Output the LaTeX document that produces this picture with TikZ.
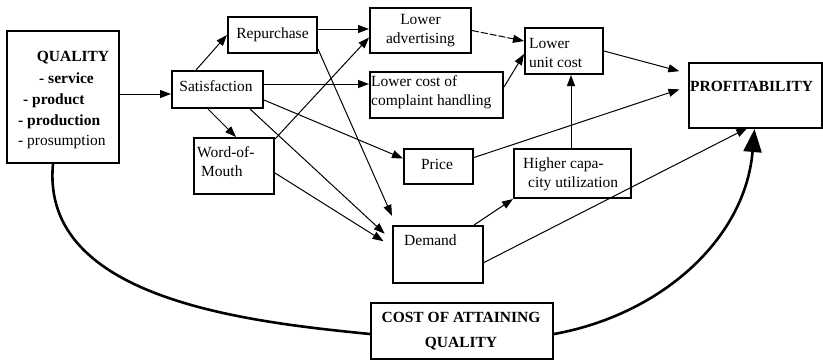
\documentclass[tikz,border=0pt]{standalone}
\usepackage{fontspec}
\setmainfont{Liberation Serif}
\usetikzlibrary{arrows.meta}
\begin{document}
\begin{tikzpicture}[x=1pt,y=-1pt,
  box/.style={draw, line width=2pt, inner sep=0pt, anchor=north west,
    font=\fontsize{15.5}{19}\selectfont, align=center},
  txt/.style={inner sep=0pt, font=\fontsize{15.5}{19}\selectfont, align=left},
  link/.style={line width=1pt, -{Triangle[length=11pt,width=8pt]}},
  gap/.style={shorten >=10pt},
  costcurve/.style={line width=2.6pt},
]
\useasboundingbox (0,0) rectangle (823,360);

% boxes
\node[box, minimum width=112pt, minimum height=132pt] (qual) at (6,30) {};
\node[box, minimum width=89pt, minimum height=36pt] (rep) at (227,16) {Repurchase};
\node[box, minimum width=91pt, minimum height=37pt] (sat) at (171,70) {};
\node[box, minimum width=80pt, minimum height=56pt] (wom) at (193,137) {};
\node[box, minimum width=101pt, minimum height=45pt] (adv) at (369,7) {Lower\\advertising};
\node[box, minimum width=133pt, minimum height=46pt] (lc) at (369,71) {};
\node[box, minimum width=78pt, minimum height=46pt] (luc) at (524,27) {};
\node[box, minimum width=133pt, minimum height=65pt] (prof) at (688,62) {};
\node[box, minimum width=69pt, minimum height=35pt] (price) at (403,148) {};
\node[box, minimum width=117pt, minimum height=49pt] (hcu) at (513,148) {};
\node[box, minimum width=90pt, minimum height=57pt] (dem) at (392,225) {};
\node[box, minimum width=182pt, minimum height=56pt] (cost) at (370,302) {};

% texts placed inside the boxes (base = baseline of the last line)
\node[txt, anchor=base] (qhead) at (73,61) {\textbf{QUALITY}};
\node[txt, anchor=base west] (q1) at (39,83) {\textbf{- service}};
\node[txt, anchor=base west] (q2) at (23,104) {\textbf{- product}};
\node[txt, anchor=base west] (q3) at (18,125) {\textbf{- production}};
\node[txt, anchor=base west] (q4) at (18,145) {- prosumption};
\node[txt, anchor=base] (sattxt) at (216,91) {Satisfaction};
\node[txt, anchor=base west] (womtxt) at (197,176) {Word-of-\\\hspace{4pt}Mouth};
\node[txt, anchor=west] (lctxt) at ([xshift=2pt,yshift=3pt]lc.west) {Lower cost of\\complaint handling};
\node[txt, anchor=west] (luctxt) at ([xshift=5pt,yshift=-2pt]luc.west) {Lower\\unit cost};
\node[txt, anchor=west] (proftxt) at (690,86) {\textbf{PROFITABILITY}};
\node[txt, anchor=center] (pricetxt) at (437,164) {Price};
\node[txt, anchor=base west] (hcutxt) at (523,187) {Higher capa-\\\hspace{5pt}city utilization};
\node[txt, anchor=west] (demtxt) at (404,240) {Demand};
\node[txt, anchor=center, align=center, font=\fontsize{15.5}{25}\selectfont] (costtxt) at (461,331) {\textbf{COST OF ATTAINING}\\\textbf{QUALITY}};

% links
\draw[link] ([yshift=-4.5pt]sat.west -| qual.east) -- ([yshift=-4.5pt]sat.west);
\draw[link] ([xshift=25pt]sat.north west) -- (rep.west);
\draw[link] ([yshift=5.5pt]sat.east) -- ([yshift=5.5pt]sat.east -| lc.west);
\draw[link] ([yshift=9pt]sat.south east) -- ([yshift=8pt]price.west);
\draw[link] ([xshift=37pt]sat.south west) -- ([xshift=2pt]wom.north);
\draw[link, gap] ([xshift=-14pt]sat.south east) -- ([yshift=14pt]dem.west);
\draw[link] ([yshift=-2pt]wom.north east) -- ([yshift=-7pt]adv.west);
\draw[link, gap] ([yshift=-7pt]wom.east) -- ([yshift=8pt]dem.west);
\draw[link, gap] ([yshift=5pt]rep.south east) -- ([xshift=4pt]dem.north west);
\draw[link] ([yshift=6pt]rep.east) -- ([yshift=6pt]rep.east -| adv.west);
\draw[link, dash pattern=on 7pt off 2pt] (adv.east) -- ([yshift=10pt]luc.west);
\draw[link] ([yshift=-16pt]lc.north east) -- ([yshift=-3pt]luc.west);
\draw[link, shorten >=9pt] (luc.east) -- ([yshift=22pt]prof.west);
\draw[link, shorten >=9pt] ([yshift=9pt]price.east) -- ([yshift=9pt]prof.west);
\draw[link] ([xshift=-1.5pt]hcu.north) -- ([xshift=-1.5pt]hcu.north |- luc.south);
\draw[link] ([xshift=-10pt]dem.north east) -- (hcu.south west);
\draw[link, shorten >=-2pt] ([yshift=-8pt]dem.east) -- ([xshift=-10pt]prof.south);

% cost curves
\draw[costcurve] ([xshift=-10pt]qual.south) .. controls (40,300) and (250,322) .. ([yshift=-3pt]cost.west);
\draw[costcurve, -{Triangle[length=23pt,width=18pt]}] ([yshift=-3pt]cost.east) .. controls (660,315) and (745,240) .. ([xshift=-1pt]prof.south);
\end{tikzpicture}
\end{document}
